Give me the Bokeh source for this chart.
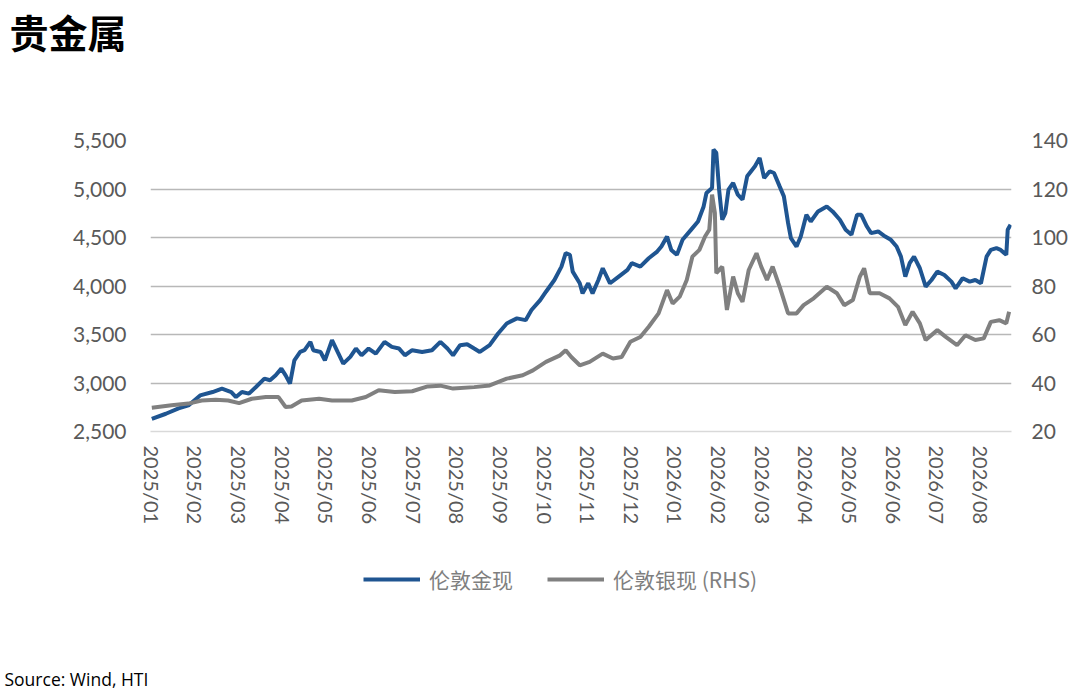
import pandas as pd
from bokeh.embed import file_html
from bokeh.layouts import column
from bokeh.models import (FixedTicker, Legend, LegendItem, LinearAxis,
                          NumeralTickFormatter, Range1d)
from bokeh.plotting import figure
from bokeh.resources import INLINE

month_labels = ["2025/01", "2025/02", "2025/03", "2025/04", "2025/05", "2025/06",
                "2025/07", "2025/08", "2025/09", "2025/10", "2025/11", "2025/12",
                "2026/01", "2026/02", "2026/03", "2026/04", "2026/05", "2026/06",
                "2026/07", "2026/08"]

# London spot gold (left axis)
gold_dates = [
    "2025-01-01", "2025-01-11", "2025-01-20", "2025-01-27", "2025-02-04", "2025-02-12",
    "2025-02-18", "2025-02-24", "2025-02-27", "2025-03-03", "2025-03-08", "2025-03-13",
    "2025-03-19", "2025-03-23", "2025-03-27", "2025-03-31", "2025-04-03", "2025-04-06",
    "2025-04-09", "2025-04-13", "2025-04-16", "2025-04-20", "2025-04-22", "2025-04-27",
    "2025-04-30", "2025-05-05", "2025-05-09", "2025-05-13", "2025-05-18", "2025-05-22",
    "2025-05-26", "2025-05-31", "2025-06-05", "2025-06-11", "2025-06-16", "2025-06-21",
    "2025-06-25", "2025-06-30", "2025-07-07", "2025-07-14", "2025-07-20", "2025-07-25",
    "2025-07-29", "2025-08-03", "2025-08-08", "2025-08-13", "2025-08-17", "2025-08-24",
    "2025-08-30", "2025-09-05", "2025-09-12", "2025-09-18", "2025-09-22", "2025-09-28",
    "2025-10-02", "2025-10-08", "2025-10-13", "2025-10-16", "2025-10-19", "2025-10-21",
    "2025-10-26", "2025-10-28", "2025-11-01", "2025-11-04", "2025-11-08", "2025-11-11",
    "2025-11-16", "2025-11-22", "2025-11-28", "2025-12-01", "2025-12-07", "2025-12-13",
    "2025-12-19", "2025-12-22", "2025-12-26", "2025-12-29", "2026-01-02", "2026-01-06",
    "2026-01-12", "2026-01-17", "2026-01-21", "2026-01-23", "2026-01-27", "2026-01-28",
    "2026-01-30", "2026-02-01", "2026-02-03", "2026-02-05", "2026-02-07", "2026-02-10",
    "2026-02-13", "2026-02-16", "2026-02-19", "2026-02-24", "2026-02-27", "2026-03-02",
    "2026-03-06", "2026-03-09", "2026-03-13", "2026-03-16", "2026-03-19", "2026-03-21",
    "2026-03-25", "2026-03-28", "2026-04-01", "2026-04-04", "2026-04-09", "2026-04-15",
    "2026-04-19", "2026-04-24", "2026-04-28", "2026-05-02", "2026-05-06", "2026-05-09",
    "2026-05-13", "2026-05-16", "2026-05-21", "2026-05-26", "2026-05-30", "2026-06-03",
    "2026-06-06", "2026-06-09", "2026-06-12", "2026-06-15", "2026-06-19", "2026-06-23",
    "2026-06-27", "2026-07-01", "2026-07-06", "2026-07-11", "2026-07-14", "2026-07-19",
    "2026-07-24", "2026-07-28", "2026-08-01", "2026-08-05", "2026-08-08", "2026-08-12",
    "2026-08-15", "2026-08-19", "2026-08-20", "2026-08-22",
]
gold_values = [
    2630, 2683, 2738, 2769, 2872, 2907,
    2941, 2907, 2855, 2907, 2890, 2959,
    3045, 3028, 3079, 3148, 3079, 2993,
    3234, 3320, 3338, 3424, 3338, 3320,
    3234, 3441, 3320, 3200, 3269, 3355,
    3286, 3355, 3303, 3424, 3372, 3355,
    3286, 3338, 3320, 3338, 3424, 3355,
    3286, 3390, 3400, 3355, 3320, 3390,
    3510, 3614, 3666, 3648, 3752, 3855,
    3941, 4062, 4200, 4338, 4321, 4148,
    4028, 3924, 4028, 3924, 4062, 4183,
    4028, 4097, 4166, 4235, 4200, 4286,
    4355, 4407, 4510, 4372, 4321, 4476,
    4579, 4665, 4820, 4959, 5011, 5407,
    5373, 4993, 4683, 4752, 4993, 5062,
    4941, 4890, 5131, 5234, 5321, 5114,
    5183, 5165, 5027, 4924, 4648, 4493,
    4407, 4510, 4734, 4665, 4769, 4820,
    4769, 4683, 4579, 4528, 4734, 4734,
    4613, 4545, 4562, 4510, 4476, 4407,
    4303, 4097, 4235, 4303, 4183, 3993,
    4062, 4148, 4114, 4045, 3976, 4080,
    4045, 4062, 4028, 4303, 4372, 4390,
    4372, 4321, 4579, 4631,
]

# London spot silver (right axis)
silver_dates = [
    "2025-01-01", "2025-01-15", "2025-01-27", "2025-02-05", "2025-02-14", "2025-02-22",
    "2025-03-01", "2025-03-10", "2025-03-20", "2025-03-29", "2025-04-03", "2025-04-07",
    "2025-04-14", "2025-04-26", "2025-05-05", "2025-05-19", "2025-05-29", "2025-06-07",
    "2025-06-18", "2025-06-30", "2025-07-11", "2025-07-20", "2025-07-29", "2025-08-13",
    "2025-08-24", "2025-09-05", "2025-09-16", "2025-09-23", "2025-10-02", "2025-10-12",
    "2025-10-16", "2025-10-20", "2025-10-26", "2025-11-02", "2025-11-11", "2025-11-18",
    "2025-11-24", "2025-11-30", "2025-12-07", "2025-12-13", "2025-12-20", "2025-12-26",
    "2025-12-30", "2026-01-04", "2026-01-09", "2026-01-13", "2026-01-18", "2026-01-22",
    "2026-01-25", "2026-01-27", "2026-01-29", "2026-01-30", "2026-02-03", "2026-02-06",
    "2026-02-10", "2026-02-13", "2026-02-16", "2026-02-20", "2026-02-25", "2026-02-28",
    "2026-03-04", "2026-03-08", "2026-03-13", "2026-03-19", "2026-03-25", "2026-03-30",
    "2026-04-06", "2026-04-15", "2026-04-22", "2026-04-27", "2026-05-03", "2026-05-08",
    "2026-05-11", "2026-05-15", "2026-05-22", "2026-05-29", "2026-06-04", "2026-06-09",
    "2026-06-14", "2026-06-19", "2026-06-23", "2026-07-01", "2026-07-07", "2026-07-15",
    "2026-07-21", "2026-07-28", "2026-08-03", "2026-08-08", "2026-08-14", "2026-08-19",
    "2026-08-21",
]
silver_values = [
    29.8, 30.8, 31.5, 32.8, 33.1, 32.8,
    31.7, 33.5, 34.2, 34.2, 30.1, 30.3,
    32.8, 33.5, 32.8, 32.8, 34.2, 37.0,
    36.3, 36.6, 38.6, 38.9, 37.7, 38.3,
    39.0, 41.8, 43.2, 45.2, 48.7, 51.4,
    53.5, 50.7, 47.3, 48.7, 52.1, 50.1,
    50.7, 57.0, 59.0, 63.2, 68.7, 78.3,
    72.8, 75.6, 82.5, 92.1, 94.9, 100.4,
    103.2, 117.7, 110.1, 85.3, 88.0, 70.1,
    83.9, 77.0, 73.5, 86.6, 93.5, 88.0,
    82.5, 88.0, 79.7, 68.7, 68.7, 72.1,
    74.9, 79.7, 77.0, 72.1, 74.2, 83.9,
    87.3, 77.0, 77.0, 74.9, 71.4, 63.9,
    69.4, 64.6, 57.7, 61.8, 59.0, 55.6,
    59.7, 57.7, 58.4, 65.2, 65.9, 64.6,
    69.4,
]

left_ticks = [2500, 3000, 3500, 4000, 4500, 5000, 5500]
right_ticks = [20, 40, 60, 80, 100, 120, 140]

GOLD = "#1F5591"
SILVER = "#808080"
TICK_FONT = "Lato"
TICK_COLOR = "#595959"
CJK = "Noto Sans CJK SC"
W = 1071
LEFT, RIGHT = 150, 59   # plot frame borders, shared by all three strips


def month_pos(dates):
    # month index on an evenly spaced monthly axis (2025/01 = 0)
    d = pd.to_datetime(pd.Series(dates))
    pos = (d.dt.year - 2025) * 12 + d.dt.month - 1 + (d.dt.day - 1) / d.dt.days_in_month
    return pos.tolist()


def strip(height, **kw):
    # axis-less strip used for the page title and the legend/source footer
    f = figure(width=W, height=height, output_backend="svg", toolbar_location=None,
               x_range=Range1d(0, 1), y_range=Range1d(0, 1),
               x_axis_location=None, y_axis_location=None,
               min_border_left=LEFT, min_border_right=RIGHT,
               min_border_top=0, min_border_bottom=0, **kw)
    f.grid.visible = False
    f.outline_line_color = None
    return f


gold_x = month_pos(gold_dates)
silver_x = month_pos(silver_dates)

# ---- header strip: page title at the top left
head = strip(100, title="贵金属", title_location="above")
head.title.align = "left"
head.title.offset = 9 - LEFT
head.title.standoff = 0
head.title.text_font = CJK
head.title.text_font_size = "39px"
head.title.text_font_style = "bold"
head.title.text_color = "black"

# ---- main chart
p = figure(width=W, height=440, output_backend="svg", toolbar_location=None,
           x_range=Range1d(-0.03, 19.7), y_range=Range1d(left_ticks[0], left_ticks[-1]),
           min_border_left=LEFT, min_border_right=RIGHT, min_border_top=40,
           min_border_bottom=109)
p.outline_line_color = None
p.extra_y_ranges = {"rhs": Range1d(right_ticks[0], right_ticks[-1])}

p.xaxis.ticker = FixedTicker(ticks=list(range(len(month_labels))))
p.xaxis.major_label_overrides = {i: lab for i, lab in enumerate(month_labels)}
p.xaxis.major_label_orientation = "vertical"
p.xaxis.axis_line_color = "#d9d9d9"
p.xaxis.axis_line_width = 1.5
p.xaxis.major_label_standoff = 8
p.xaxis.major_label_text_font_size = "20px"

p.yaxis.ticker = FixedTicker(ticks=left_ticks)
p.yaxis.formatter = NumeralTickFormatter(format="0,0")
p.yaxis.major_label_standoff = 18
p.yaxis.major_label_text_font_size = "21px"

rhs = LinearAxis(y_range_name="rhs", ticker=FixedTicker(ticks=right_ticks))
rhs.major_label_standoff = 14
rhs.major_label_text_font_size = "21px"
p.add_layout(rhs, "right")

for ax in p.xaxis + p.yaxis + [rhs]:
    ax.major_tick_line_color = None
    ax.minor_tick_line_color = None
    ax.major_label_text_font = TICK_FONT
    ax.major_label_text_color = TICK_COLOR
for ax in p.yaxis + [rhs]:
    ax.axis_line_color = None

p.xgrid.visible = False
p.ygrid.ticker = FixedTicker(ticks=left_ticks[1:])
p.ygrid.grid_line_color = "#b8b8b8"
p.ygrid.grid_line_width = 1.5

p.line(gold_x, gold_values, line_color=GOLD, line_width=4)
p.line(silver_x, silver_values, line_color=SILVER, line_width=4, y_range_name="rhs")

# ---- footer strip: legend, then the source note at the bottom left
foot = strip(150, title="Source: Wind, HTI", title_location="below")
foot.title.align = "left"
foot.title.offset = 4 - LEFT
foot.title.standoff = 0
foot.title.text_font = "Open Sans"
foot.title.text_font_size = "17.5px"
foot.title.text_font_style = "normal"
foot.title.text_color = "black"

nan = float("nan")
gold_key = foot.line([nan], [nan], line_color=GOLD, line_width=4)
silver_key = foot.line([nan], [nan], line_color=SILVER, line_width=4)
legend = Legend(items=[LegendItem(label="伦敦金现", renderers=[gold_key]),
                       LegendItem(label="伦敦银现 (RHS)", renderers=[silver_key])],
                orientation="horizontal", location=(363 - LEFT, 70),
                glyph_width=57, glyph_height=20, label_standoff=9, spacing=34,
                padding=0, margin=0, border_line_color=None, background_fill_alpha=0,
                label_text_font=CJK, label_text_font_size="21px",
                label_text_color="#7f7f7f")
foot.add_layout(legend)

page = column(head, p, foot, spacing=0)
open("out.html", "w").write(file_html(page, INLINE))
